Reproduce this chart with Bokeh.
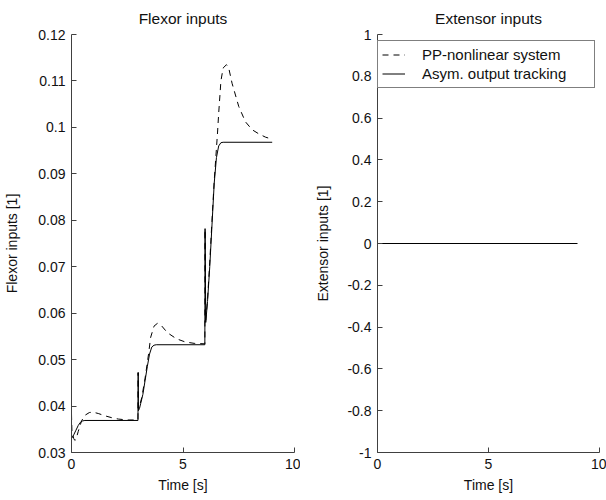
from bokeh.plotting import figure
from bokeh.models import Range1d, FixedTicker, Legend, LegendItem
from bokeh.layouts import row
from bokeh.embed import file_html
from bokeh.resources import INLINE

# ---- data ----
t_asym = [0, 0.1, 0.2, 0.3, 0.4, 0.5, 0.6, 2.98, 2.99, 3.0, 3.05, 3.1, 3.2, 3.3, 3.4, 3.5,
          3.6, 3.7, 3.8, 5.98, 5.99, 6.02, 6.1, 6.2, 6.3, 6.4, 6.5, 6.6, 6.7, 6.8, 9.0]
v_asym = [0.0330, 0.0338, 0.0348, 0.0358, 0.0365, 0.0368, 0.0369, 0.0369, 0.0472, 0.0390,
          0.0395, 0.0405, 0.0425, 0.0455, 0.0485, 0.0512, 0.0527, 0.0531, 0.0532, 0.0532,
          0.0782, 0.0580, 0.0625, 0.0700, 0.0790, 0.0880, 0.0935, 0.0960, 0.0967, 0.0968,
          0.0968]

t_pp = [0, 0.01, 0.02, 0.1, 0.15, 0.2, 0.3, 0.45, 0.6, 0.8, 0.95, 1.2, 1.5, 1.8, 2.1, 2.5,
        2.98, 2.99, 3.0, 3.05, 3.15, 3.3, 3.45, 3.55, 3.7, 3.85, 4.0, 4.3, 4.7, 5.1, 5.5,
        5.98, 5.99, 6.02, 6.1, 6.2, 6.3, 6.4, 6.5, 6.55, 6.6, 6.7, 6.8, 6.95, 7.05, 7.2,
        7.5, 7.8, 8.1, 8.4, 8.7, 8.9]
v_pp = [0.0383, 0.0362, 0.0345, 0.0330, 0.0326, 0.0328, 0.0345, 0.0368, 0.0380, 0.0386,
        0.0387, 0.0384, 0.0379, 0.0375, 0.0372, 0.0370, 0.0370, 0.0472, 0.0395, 0.0400,
        0.0418, 0.0460, 0.0510, 0.0548, 0.0572, 0.0578, 0.0575, 0.0558, 0.0545, 0.0538,
        0.0535, 0.0534, 0.0780, 0.0585, 0.0630, 0.0710, 0.0800, 0.0885, 0.0955, 0.0990,
        0.1030, 0.1100, 0.1128, 0.1135, 0.1128, 0.1095, 0.1045, 0.1012, 0.0995, 0.0986,
        0.0979, 0.0976]

t_ext = [0, 9.0]
v_ext_pp = [0, 0]
v_ext_asym = [0, 0]

x_ticks = [0, 5, 10]
x_labels = ["0", "5", "10"]
flex_ticks = [0.03, 0.04, 0.05, 0.06, 0.07, 0.08, 0.09, 0.10, 0.11, 0.12]
flex_labels = ["0.03", "0.04", "0.05", "0.06", "0.07", "0.08", "0.09", "0.1", "0.11", "0.12"]
ext_ticks = [-1, -0.8, -0.6, -0.4, -0.2, 0, 0.2, 0.4, 0.6, 0.8, 1]
ext_labels = ["-1", "-0.8", "-0.6", "-0.4", "-0.2", "0", "0.2", "0.4", "0.6", "0.8", "1"]

FONT = "Liberation Sans"
FS = "14px"
AXC = "#404040"
TXT = "#111111"


def style(p, xt, xl, yt, yl, xlabel, ylabel, ylab_standoff):
    p.xaxis.ticker = FixedTicker(ticks=xt)
    p.xaxis.major_label_overrides = {k: v for k, v in zip(xt, xl)}
    p.yaxis.ticker = FixedTicker(ticks=yt)
    p.yaxis.major_label_overrides = {k: v for k, v in zip(yt, yl)}
    p.xaxis.axis_label = xlabel
    p.yaxis.axis_label = ylabel
    for ax in (p.xaxis[0], p.yaxis[0]):
        ax.major_tick_in = 5
        ax.major_tick_out = 0
        ax.minor_tick_in = 0
        ax.minor_tick_out = 0
        ax.axis_line_color = AXC
        ax.major_tick_line_color = AXC
        ax.major_label_text_font = FONT
        ax.major_label_text_font_size = FS
        ax.major_label_text_color = TXT
        ax.axis_label_text_font = FONT
        ax.axis_label_text_font_size = FS
        ax.axis_label_text_font_style = "normal"
        ax.axis_label_text_color = TXT
        ax.major_label_standoff = 6
    p.xaxis.axis_label_standoff = 5
    p.yaxis.axis_label_standoff = ylab_standoff
    p.grid.visible = False
    p.outline_line_color = None
    p.title.text_font = FONT
    p.title.text_font_size = "15.5px"
    p.title.text_font_style = "normal"
    p.title.text_color = TXT
    p.title.align = "center"
    p.title.standoff = 15


p1 = figure(width=300, height=500, output_backend="svg", toolbar_location=None,
            title="Flexor inputs", x_range=Range1d(0, 10), y_range=Range1d(0.03, 0.12),
            min_border_left=71, min_border_right=6, min_border_top=34, min_border_bottom=48)
style(p1, x_ticks, x_labels, flex_ticks, flex_labels, "Time [s]", "Flexor inputs [1]", 15)
p1.line(t_pp, v_pp, line_color="black", line_width=1, line_dash="6 5")
p1.line(t_asym, v_asym, line_color="black", line_width=1)

p2 = figure(width=306, height=500, output_backend="svg", toolbar_location=None,
            title="Extensor inputs", x_range=Range1d(0, 10), y_range=Range1d(-1, 1),
            min_border_left=77, min_border_right=7, min_border_top=34, min_border_bottom=48)
style(p2, x_ticks, x_labels, ext_ticks, ext_labels, "Time [s]", "Extensor inputs [1]", 13)
r_pp = p2.line(t_ext, v_ext_pp, line_color="black", line_width=1, line_dash="6 5")
r_as = p2.line(t_ext, v_ext_asym, line_color="black", line_width=1)

legend = Legend(items=[LegendItem(label="PP-nonlinear system", renderers=[r_pp]),
                       LegendItem(label="Asym. output tracking", renderers=[r_as])],
                location=(0, 364))
legend.label_text_font = FONT
legend.label_text_font_size = "15px"
legend.label_text_color = TXT
legend.border_line_color = "black"
legend.border_line_width = 1
legend.background_fill_color = "white"
legend.background_fill_alpha = 1
legend.padding = 4
legend.margin = 0
legend.spacing = 0
legend.glyph_width = 23
legend.glyph_height = 19
legend.label_height = 19
legend.label_standoff = 17
legend.label_width = 168
p2.add_layout(legend, "center")

layout = row(p1, p2)
open("out.html", "w").write(file_html(layout, INLINE))
